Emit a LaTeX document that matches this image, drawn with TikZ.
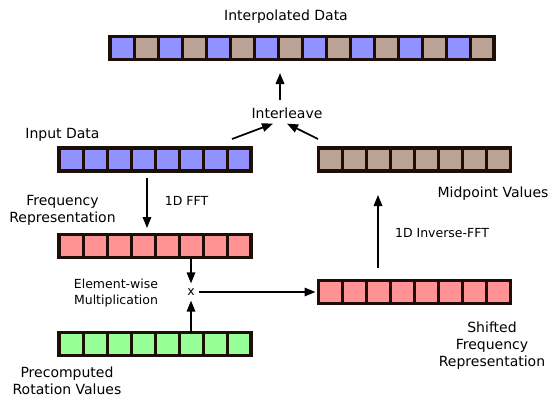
\documentclass[tikz,border=0pt]{standalone}
\usepackage{fontspec}
\setmainfont{DejaVu Sans}
\usetikzlibrary{arrows.meta}
\definecolor{cblue}{RGB}{145,145,255}
\definecolor{cbrown}{RGB}{186,162,148}
\definecolor{cpink}{RGB}{255,146,146}
\definecolor{cgreen}{RGB}{150,255,150}
\definecolor{cedge}{RGB}{30,14,8}
\newcommand\cellrow[6]{%
  \node[rowbox, minimum width=#4*24pt] (#1) at (#2,#3) {};
  \begin{scope}[shift={(#1.west)}]
    \foreach \i in {1,...,#4}{%
      \pgfmathtruncatemacro\oddcell{mod(\i,2)}%
      \ifnum\oddcell=1 \def\cellcol{#5}\else\def\cellcol{#6}\fi
      \filldraw[cellline, fill=\cellcol] (\i*24-24,-11.5) rectangle (\i*24,11.5);
    }
  \end{scope}
  \draw[rowline] (#1.south west) rectangle (#1.north east);
}
\begin{document}
\begin{tikzpicture}[x=1pt,y=-1pt,
  rowbox/.style={minimum height=23pt, inner sep=0pt, outer sep=0pt},
  cellline/.style={draw=cedge, line width=3pt},
  rowline/.style={draw=cedge, line width=3.6pt},
  big/.style={font=\fontsize{14}{17}\selectfont, inner sep=0pt, align=center},
  small/.style={font=\fontsize{12.5}{16}\selectfont, inner sep=0pt, align=center},
  arr/.style={line width=1.7pt, -{Triangle[length=11pt,width=8.5pt]}}
]
\useasboundingbox (0,0) rectangle (552,397);

\cellrow{top}{302}{48}{16}{cblue}{cbrown}
\cellrow{in}{155}{159.5}{8}{cblue}{cblue}
\cellrow{mid}{414.5}{159.5}{8}{cbrown}{cbrown}
\cellrow{freq}{155}{246}{8}{cpink}{cpink}
\cellrow{green}{155}{344}{8}{cgreen}{cgreen}
\cellrow{shift}{414.5}{292}{8}{cpink}{cpink}

\node[big] (title) at (286,17) {Interpolated Data};
\node[big] (il) at (287,113) {Interleave};
\node[big] (lin) at (62.5,134.5) {Input Data};
\node[big] (lfreq) at (62.5,210.5) {Frequency\\Representation};
\node[small] (lfft) at (186.5,201) {1D FFT};
\node[small] (lmul) at (116,293) {Element-wise\\Multiplication};
\node[font=\fontsize{12.5}{16}\selectfont, inner xsep=4pt, inner ysep=5pt] (xn) at (191,292) {x};
\node[small] (lifft) at (442,233) {1D Inverse-FFT};
\node[big] (lmid) at (493,193.5) {Midpoint Values};
\node[big] (lshift) at (492,345.5) {Shifted\\Frequency\\Representation};
\node[big] (lrot) at (67,380.5) {Precomputed\\Rotation Values};

\draw[arr] ([xshift=-7pt,yshift=7pt]il.north) -- ([xshift=-22pt,yshift=-13.5pt]top.south);
\draw[arr] ([xshift=-19pt,yshift=9pt]in.north east) -- ([xshift=-14pt,yshift=-5pt]il.south);
\draw[arr] ([xshift=-0.5pt,yshift=9pt]mid.north west) -- ([xshift=0pt,yshift=-5pt]il.south);
\draw[arr] ([xshift=-8pt,yshift=-7pt]in.south) -- ([xshift=-8pt,yshift=6.5pt]freq.north);
\draw[arr] ([xshift=36pt]freq.south) -- (xn.north);
\draw[arr] ([xshift=36pt]green.north) -- (xn.south);
\draw[arr] (xn.east) -- ([xshift=-3pt]shift.west);
\draw[arr] ([xshift=-36.5pt,yshift=13pt]shift.north) -- ([xshift=-36.5pt,yshift=-24pt]mid.south);
\end{tikzpicture}
\end{document}
